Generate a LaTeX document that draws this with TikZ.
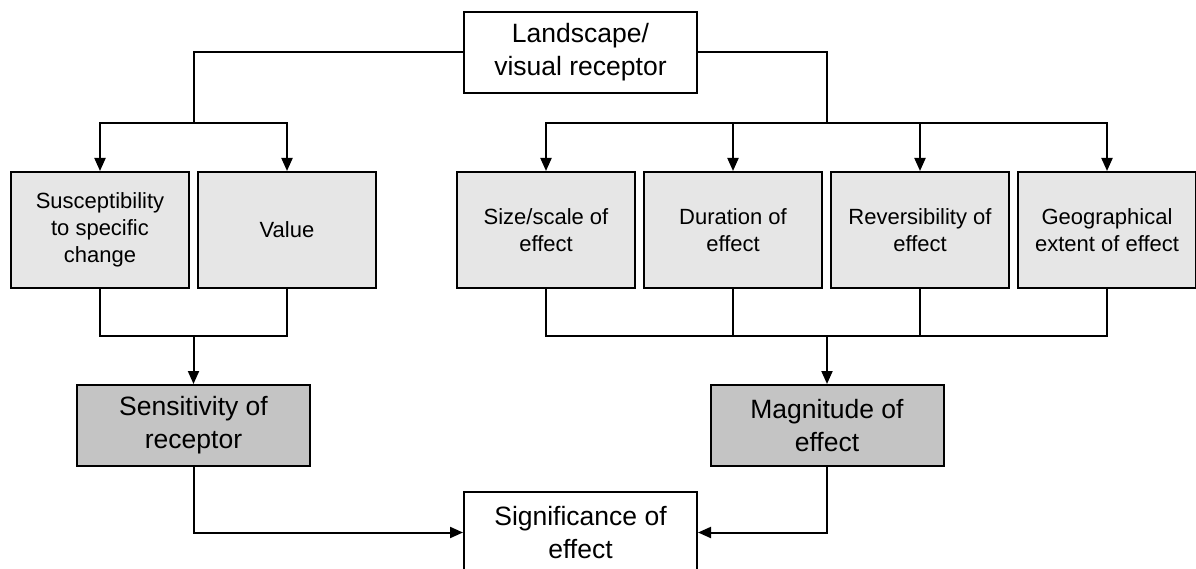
\documentclass[tikz,border=0pt]{standalone}
\usepackage{fontspec}
\setmainfont{Liberation Sans}
\usepackage{tikz}
\usetikzlibrary{arrows.meta}
\usetikzlibrary{positioning}
\definecolor{lightbox}{RGB}{230,230,230}
\definecolor{darkbox}{RGB}{196,196,196}

\begin{document}
\begin{tikzpicture}[x=1pt,y=-1pt,line width=2pt,node distance=187pt,
    >={Triangle[length=13pt,width=11pt]},
    box/.style={draw,align=center,inner sep=0pt,font=\fontsize{26.5}{33}\selectfont},
    bigbox/.style={box,minimum width=233pt,minimum height=81pt},
    factor/.style={box,fill=lightbox,minimum width=178pt,minimum height=116pt,
      font=\fontsize{22}{27}\selectfont},
    result/.style={bigbox,fill=darkbox}]
  \useasboundingbox (0,0) rectangle (1196,569);

  \node[bigbox] (land) at (580.5,52.5) {Landscape/\\visual receptor};

  \node[factor] (susc) at (100,230) {Susceptibility\\to specific\\change};
  \node[factor] (val) [right of=susc] {Value};
  \node[factor] (size) at (546,230) {Size/scale of\\effect};
  \node[factor] (dur) [right of=size] {Duration of\\effect};
  \node[factor] (rev) [right of=dur] {Reversibility of\\effect};
  \node[factor] (geo) [right of=rev] {Geographical\\extent of effect};

  \node[result] (sens) at (193.5,425.5) {Sensitivity of\\receptor};
  \node[result] (mag) at (827,425.5) {Magnitude of\\effect};

  \node[bigbox] (sig) at (580.5,532.5) {Significance of\\effect};

  \coordinate (lsplit) at (193.5,123);
  \coordinate (rsplit) at (827,123);
  \coordinate (ljoin) at (193.5,336);
  \coordinate (rjoin) at (827,336);

  % receptor to the factors
  \draw (land.west) -| (lsplit);
  \draw (land.east) -| (rsplit);
  \draw[->] (lsplit) -| (susc.north);
  \draw[->] (lsplit) -| (val.north);
  \draw[->] (rsplit) -| (size.north);
  \draw[->] (rsplit) -| (dur.north);
  \draw[->] (rsplit) -| (rev.north);
  \draw[->] (rsplit) -| (geo.north);

  % factors to sensitivity and magnitude
  \draw (susc.south) |- (ljoin) -| (val.south);
  \draw[->] (ljoin) -- (sens.north);
  \draw (size.south) |- (rjoin) -| (geo.south);
  \draw (dur.south) |- (rjoin);
  \draw (rev.south) |- (rjoin);
  \draw[->] (rjoin) -- (mag.north);

  % significance
  \draw[->] (sens.south) |- (sig.west);
  \draw[->] (mag.south) |- (sig.east);
\end{tikzpicture}
\end{document}
